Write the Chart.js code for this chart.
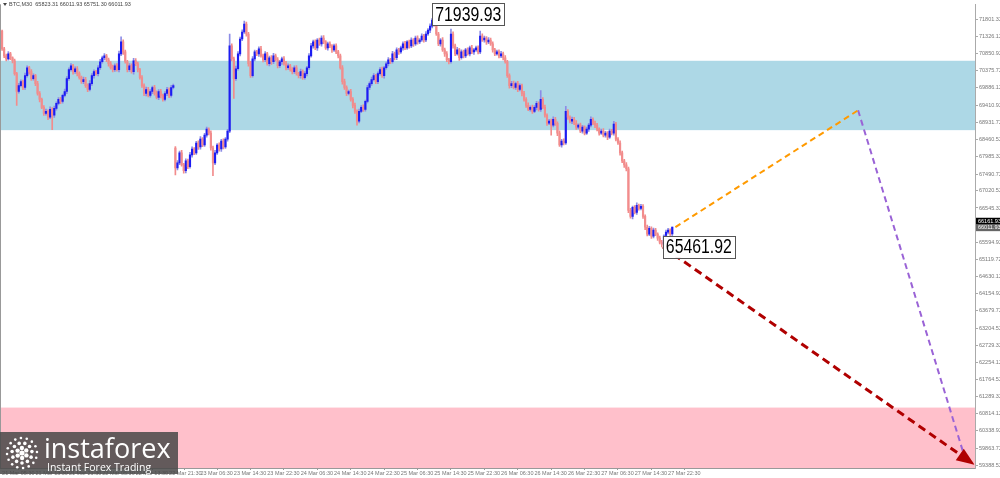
<!DOCTYPE html>
<html>
<head>
<meta charset="utf-8">
<script src="https://cdn.jsdelivr.net/npm/chart.js@4.4.1/dist/chart.umd.min.js"></script>
<style>
html, body { margin: 0; padding: 0; background: #fff; }
#wrap { position: relative; width: 1000px; height: 478px; }
</style>
</head>
<body>
<div id="wrap"><canvas id="myChart" width="1000" height="478"></canvas></div>
<script>
// BTC M30 candles (index = bar number)
const firstOpen = 71470;
const gapOpens = {83: 68216};
const closes = [
  70974,70781,70698,70836,70726,70643,70284,69788,69953,70064,69898,70229,70450,70340,70146,70229,70009,69733,69567,69347,
  69181,69236,69071,69292,69126,69319,69457,69567,69512,69678,69788,70146,70395,70505,70340,70422,70284,70174,70064,70119,
  69953,69843,70009,70229,70340,70284,70450,70615,70726,70781,70671,70560,70450,70395,70505,70395,70836,71167,70891,70615,
  70395,70505,70340,70643,70560,70395,70174,69953,69733,69843,69678,69788,69898,69733,69622,69788,69678,69567,69733,69843,
  69678,69898,69953,67664,67802,68078,67747,67582,67857,67692,68023,68188,68078,68354,68243,68464,68299,68574,68740,68630,
  68216,67802,68078,68299,68188,68409,68243,68464,68685,71057,70698,70146,70422,70836,71250,71443,71663,71388,70560,70229,
  70698,70891,70836,70974,70781,70671,70836,70560,70726,70615,70781,70671,70505,70615,70698,70560,70450,70505,70395,70340,
  70450,70284,70229,70340,70174,70284,70450,70781,71057,71167,71001,71222,71112,71277,71167,71001,71112,71057,70946,71057,
  70891,70781,70450,70064,69898,69733,69788,69567,69402,69236,68961,69236,69347,69292,69512,69898,70009,70119,70229,70064,
  70284,70395,70229,70450,70560,70671,70615,70836,70726,70946,70891,71001,71112,71001,71167,71057,71222,71112,71277,71167,
  71222,71332,71222,71388,71498,71608,71774,71663,71388,71112,71222,70946,70836,70671,70615,71388,71057,70836,70946,70726,
  70891,70781,70946,70836,71001,70891,70946,71001,70891,71332,71222,71277,71167,71222,71112,70946,70836,70891,70781,70836,
  70726,70615,70229,69953,70009,69898,70009,69843,69953,69733,69567,69402,69292,69347,69236,69347,69457,69292,69567,69347,
  69126,68905,68961,68850,69016,68905,68630,68299,68409,68354,69236,69071,68961,69016,68905,68795,68850,68685,68795,68630,
  68740,68850,69016,68905,68850,68740,68630,68685,68574,68630,68519,68685,68630,68878,68464,68354,68078,67857,67747,67637,
  66478,66313,66561,66423,66616,66534,66589,66313,66009,65816,65982,65761,65927,65816,65706,65596,65541,65761,65872,65927,65823.31,66011.93
];
// wick length above / below the body
const upWick = [
  30,40,50,60,40,30,50,40,60,50,40,70,50,40,60,50,40,60,50,40,
  50,60,40,70,50,60,40,50,60,40,70,60,50,60,40,50,60,50,40,70,
  60,50,80,60,50,40,60,70,50,60,40,50,60,70,50,60,80,140,60,50,
  40,60,50,70,60,50,40,60,50,70,60,50,40,60,70,50,60,40,50,60,
  50,60,40,40,60,50,70,40,60,50,70,60,40,50,60,70,40,50,60,40,
  60,50,70,40,60,50,60,40,50,330,60,50,70,60,50,60,83,60,50,70,
  60,50,40,60,70,50,60,40,50,60,70,50,60,40,50,60,70,50,40,60,
  50,60,40,70,50,60,40,60,70,50,60,40,50,60,70,40,50,60,40,50,
  60,40,50,60,70,50,40,60,50,60,40,60,50,70,40,60,50,70,60,40,
  50,60,70,40,50,60,40,70,50,60,40,50,60,70,40,50,60,40,50,60,
  40,60,50,70,40,60,50,166,60,50,40,70,50,60,40,138,60,50,70,40,
  60,50,40,60,50,70,40,50,60,138,60,50,40,70,50,60,40,50,60,70,
  50,60,40,50,60,70,40,60,50,40,60,50,70,40,60,50,60,40,248,50,
  60,40,50,60,70,50,40,60,50,60,138,50,40,60,50,70,40,60,50,40,
  60,50,70,40,60,50,40,60,70,50,40,60,50,80,50,40,60,50,40,60,
  50,60,40,50,70,40,60,50,40,60,50,40,60,50,40,60,50,40,60,50,40,0
];
const dnWick = [
  40,50,60,40,50,60,40,386,50,40,60,50,40,70,50,40,60,50,70,40,
  60,50,70,40,400,60,50,40,60,50,40,60,50,40,70,50,60,40,50,60,
  50,60,40,50,70,40,60,50,40,60,50,70,40,60,50,40,60,50,70,40,
  60,50,40,70,50,60,40,50,60,70,40,50,60,50,40,60,70,50,40,60,
  60,50,40,200,60,50,40,70,60,50,40,60,50,40,70,60,50,40,60,50,
  60,360,50,40,60,70,50,40,60,40,60,550,50,40,60,50,40,60,70,50,
  40,60,50,70,40,60,50,40,60,70,50,40,60,50,70,40,60,50,40,60,
  50,40,60,70,50,40,60,50,40,60,50,70,40,60,50,40,60,50,70,40,
  50,60,40,70,50,60,40,50,70,60,110,50,40,60,50,40,60,50,40,60,
  60,40,50,70,40,60,50,40,60,50,70,40,60,50,40,60,50,70,40,60,
  50,40,60,50,40,70,50,60,40,50,60,40,70,50,60,40,60,50,40,70,
  40,60,50,40,60,50,70,40,60,50,40,60,70,50,40,60,50,40,60,50,
  60,40,50,70,60,40,50,60,40,70,50,60,40,50,60,40,70,50,60,40,
  50,60,40,276,50,60,70,40,60,50,40,60,50,70,40,60,50,40,60,50,
  40,60,50,40,70,50,60,40,50,60,70,40,50,60,50,40,60,50,70,60,
  60,50,70,40,60,50,40,60,70,50,40,60,50,40,60,50,79,40,60,50,60,72
];

// time axis labels (bar index -> text)
const xTickIdx = [0, 16, 32, 48, 64, 80, 95, 111, 127, 143, 159, 175, 191, 207, 223, 239, 255, 271, 287, 303, 319];
const xTickText = ['21 Mar 05:30', '21 Mar 13:30', '21 Mar 21:30', '22 Mar 05:30', '22 Mar 13:30', '22 Mar 21:30',
  '23 Mar 06:30', '23 Mar 14:30', '23 Mar 22:30', '24 Mar 06:30', '24 Mar 14:30', '24 Mar 22:30',
  '25 Mar 06:30', '25 Mar 14:30', '25 Mar 22:30', '26 Mar 06:30', '26 Mar 14:30', '26 Mar 22:30',
  '27 Mar 06:30', '27 Mar 14:30', '27 Mar 22:30'];
const yTickVals = [71801.32, 71326.12, 70850.92, 70375.72, 69886.12, 69410.92, 68931.72, 68460.52, 67985.32,
  67490.72, 67020.52, 66545.32, 65594.92, 65119.72, 64630.12, 64154.92, 63679.72, 63204.52, 62729.32,
  62254.12, 61764.52, 61289.32, 60814.12, 60338.92, 59863.72, 59388.52];
const yMin = 59308, yMax = 72215;

// zones and projected wave paths
const blueZone = [68712, 70643];
const pinkZone = [yMin, 60990];
const orangePath = [{x: 322.5, y: 66012}, {x: 410, y: 69264}];
const purplePath = [{x: 410, y: 69264}, {x: 461.2, y: 59583}];
const redPath = [{x: 316.5, y: 65462}, {x: 464.6, y: 59446}];

const highMark = {idx: 207, price: 71939.93};
const lowMark = {idx: 316, price: 65461.92};
const header = 'BTC,M30  65823.31 66011.93 65751.30 66011.93';
const askPrice = 66161.93, bidPrice = 66011.93;

// build candles
const opens = closes.map((c, i) => i === 0 ? firstOpen : (gapOpens[i] !== undefined ? gapOpens[i] : closes[i - 1]));
const isUp = closes.map((c, i) => c >= opens[i]);
const wickData = closes.map((c, i) => ({x: i, y: [Math.min(opens[i], c) - dnWick[i], Math.max(opens[i], c) + upWick[i]]}));
const bodyData = closes.map((c, i) => ({x: i, y: [Math.min(opens[i], c), Math.max(opens[i], c)]}));

const BULL = '#1c1cf2', BULL_WICK = '#8c8ce6', BEAR = '#f28c8c';

const decorations = {
  id: 'decorations',
  beforeDatasetsDraw(chart) {
    const {ctx, chartArea: a, scales: {y}} = chart;
    ctx.save();
    let t = y.getPixelForValue(blueZone[1]), b = y.getPixelForValue(blueZone[0]);
    ctx.fillStyle = '#add8e6';
    ctx.fillRect(a.left, t, a.right - a.left, b - t);
    t = y.getPixelForValue(pinkZone[1]); b = y.getPixelForValue(pinkZone[0]);
    ctx.fillStyle = '#ffc0cb';
    ctx.fillRect(a.left, t, a.right - a.left, b - t);
    ctx.restore();
  },
  afterDraw(chart) {
    const {ctx, chartArea: a, scales: {x, y}} = chart;
    ctx.save();

    // left frame line
    ctx.strokeStyle = '#999';
    ctx.lineWidth = 1;
    ctx.beginPath(); ctx.moveTo(0.5, a.top); ctx.lineTo(0.5, a.bottom); ctx.stroke();

    // header
    ctx.fillStyle = '#444';
    ctx.beginPath(); ctx.moveTo(3, 3); ctx.lineTo(7, 3); ctx.lineTo(5, 6); ctx.closePath(); ctx.fill();
    ctx.font = '5.5px "Liberation Sans"';
    ctx.textBaseline = 'middle';
    ctx.fillText(header, 9, 4.5);

    // price boxes at the extremes
    const box = (mark, dx) => {
      const px = x.getPixelForValue(mark.idx) + dx, py = y.getPixelForValue(mark.price);
      const txt = mark.price.toFixed(2);
      ctx.font = '20px "Liberation Sans"';
      const w = 66, sx = w / ctx.measureText(txt).width;
      ctx.fillStyle = '#fff';
      ctx.fillRect(px, py - 11, w + 6, 22);
      ctx.strokeStyle = '#555';
      ctx.lineWidth = 1;
      ctx.strokeRect(Math.round(px) + 0.5, Math.round(py - 11) + 0.5, w + 6, 22);
      ctx.save();
      ctx.translate(px + 3, py + 1);
      ctx.scale(sx, 1);
      ctx.fillStyle = '#000';
      ctx.textBaseline = 'middle';
      ctx.textAlign = 'left';
      ctx.fillText(txt, 0, 0);
      ctx.restore();
    };
    box(highMark, -2);
    box(lowMark, 1);

    // arrow head on the red path
    const rm = chart.getDatasetMeta(2).data;
    const p1 = rm[0], p2 = rm[1];
    const ang = Math.atan2(p2.y - p1.y, p2.x - p1.x);
    ctx.fillStyle = '#b00000';
    ctx.beginPath();
    ctx.moveTo(p2.x + 3 * Math.cos(ang), p2.y + 3 * Math.sin(ang));
    ctx.lineTo(p2.x - 15 * Math.cos(ang) + 7 * Math.sin(ang), p2.y - 15 * Math.sin(ang) - 7 * Math.cos(ang));
    ctx.lineTo(p2.x - 15 * Math.cos(ang) - 7 * Math.sin(ang), p2.y - 15 * Math.sin(ang) + 7 * Math.cos(ang));
    ctx.closePath();
    ctx.fill();

    // current price tags on the axis
    ctx.font = '5.5px "Liberation Sans"';
    ctx.textBaseline = 'middle';
    let ty = y.getPixelForValue(askPrice);
    ctx.fillStyle = '#000';
    ctx.fillRect(a.right + 1, ty - 4, 25, 7);
    ctx.fillStyle = '#fff';
    ctx.fillText(askPrice.toFixed(2), a.right + 3, ty);
    ty = y.getPixelForValue(bidPrice);
    ctx.fillStyle = '#666';
    ctx.fillRect(a.right + 1, ty - 3, 25, 7);
    ctx.fillStyle = '#fff';
    ctx.fillText(bidPrice.toFixed(2), a.right + 3, ty + 0.5);

    // logo
    ctx.fillStyle = 'rgba(72,72,72,0.85)';
    ctx.fillRect(0, 432, 178, 42);
    ctx.fillStyle = '#fff';
    const cx = 22, cy = 453;
    [[0, 1, 2.6], [5, 6, 2.2], [10, 11, 1.8], [15, 16, 1.3]].forEach(([r, n, s]) => {
      for (let k = 0; k < n; k++) {
        const t2 = k / n * Math.PI * 2 + r * 0.1;
        ctx.beginPath();
        ctx.arc(cx + r * Math.cos(t2), cy + r * Math.sin(t2), s, 0, Math.PI * 2);
        ctx.fill();
      }
    });
    ctx.textBaseline = 'alphabetic';
    ctx.font = '27px "Open Sans"';
    ctx.fillText('instaforex', 44, 458);
    ctx.font = '10.5px "Open Sans"';
    ctx.fillText('Instant Forex Trading', 47, 471);
    ctx.restore();
  }
};

const ctx = document.getElementById('myChart');
new Chart(ctx, {
  type: 'bar',
  data: {
    datasets: [
      {type: 'line', data: orangePath, borderColor: '#ff9a00', borderWidth: 2, borderDash: [6, 4], pointRadius: 0, fill: false, order: 0},
      {type: 'line', data: purplePath, borderColor: '#9a63d6', borderWidth: 2, borderDash: [6, 4], pointRadius: 0, fill: false, order: 0},
      {type: 'line', data: redPath, borderColor: '#b00000', borderWidth: 3, borderDash: [8, 5], pointRadius: 0, fill: false, order: 0},
      {data: bodyData, backgroundColor: isUp.map(u => u ? BULL : BEAR), barThickness: 1.5, minBarLength: 1, grouped: false, order: 1},
      {data: wickData, backgroundColor: isUp.map(u => u ? BULL_WICK : BEAR), barThickness: 1, grouped: false, order: 2}
    ]
  },
  options: {
    responsive: false,
    animation: false,
    layout: {padding: 0},
    plugins: {legend: {display: false}, tooltip: {enabled: false}},
    scales: {
      x: {
        type: 'linear', min: -1, max: 466, offset: false, position: 'bottom',
        afterBuildTicks: s => { s.ticks = xTickIdx.map(v => ({value: v})); },
        afterFit: s => { s.height = 10; },
        ticks: {autoSkip: false, maxRotation: 0, align: 'start', padding: 0, color: '#777',
          font: {size: 5.5, family: 'Liberation Sans'}, callback: (v, i) => xTickText[i]},
        grid: {drawOnChartArea: false, tickLength: 2, color: '#999'},
        border: {color: '#999'}
      },
      y: {
        position: 'right', min: yMin, max: yMax,
        afterBuildTicks: s => { s.ticks = yTickVals.map(v => ({value: v})); },
        afterFit: s => { s.width = 25; },
        ticks: {padding: 1, color: '#777', font: {size: 5.5, family: 'Liberation Sans'}, callback: v => v.toFixed(2)},
        grid: {drawOnChartArea: false, tickLength: 3, color: '#aaa'},
        border: {color: '#aaa'}
      }
    }
  },
  plugins: [decorations]
});
</script>
</body>
</html>
